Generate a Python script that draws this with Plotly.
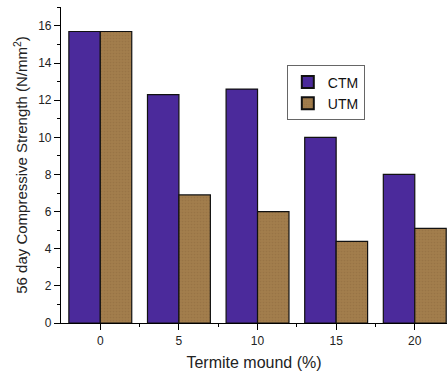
import plotly.graph_objects as go

categories = ["0", "5", "10", "15", "20"]
ctm = [15.7, 12.3, 12.6, 10.0, 8.0]
utm = [15.7, 6.9, 6.0, 4.4, 5.1]
y_ticks = [0, 2, 4, 6, 8, 10, 12, 14, 16]

xpos = list(range(len(categories)))

fig = go.Figure()
fig.add_trace(go.Bar(
    x=xpos, y=ctm, name="CTM",
    marker=dict(color="#4B2A9B", line=dict(color="#111111", width=1.2)),
))
fig.add_trace(go.Bar(
    x=xpos, y=utm, name="UTM",
    marker=dict(color="#A27D4C", line=dict(color="#111111", width=1.2),
                pattern=dict(shape=".", fgcolor="#8E6C40", bgcolor="#A27D4C",
                             size=3, solidity=0.25)),
))

font = "Liberation Sans, Arial, sans-serif"
fig.update_layout(
    width=447, height=374,
    margin=dict(l=61, r=0, t=7, b=51),
    paper_bgcolor="white", plot_bgcolor="white",
    barmode="group", bargap=0.2, bargroupgap=0,
    font=dict(family=font, size=12, color="#222222"),
    showlegend=True,
    legend=dict(x=0.585, y=0.815, xanchor="left", yanchor="top",
                bordercolor="#666666", borderwidth=1, bgcolor="white",
                font=dict(size=14, color="#111111"), tracegroupgap=0,
                itemsizing="constant"),
    xaxis=dict(
        range=[-0.5, 4.41], tickvals=xpos, ticktext=categories,
        showline=True, linecolor="black", linewidth=1.2,
        ticks="outside", ticklen=6, tickcolor="black", tickwidth=1,
        showgrid=False, zeroline=False,
        minor=dict(tickvals=[0.5, 1.5, 2.5, 3.5], ticks="outside", ticklen=3,
                   tickcolor="black", showgrid=False),
        title=dict(text="Termite mound (%)", font=dict(size=16), standoff=10),
        tickfont=dict(size=12),
    ),
    yaxis=dict(
        range=[0, 17.02], tickvals=y_ticks,
        showline=True, linecolor="black", linewidth=1.2,
        ticks="outside", ticklen=6, tickcolor="black", tickwidth=1,
        showgrid=False, zeroline=False,
        minor=dict(dtick=1, tick0=0, ticks="outside", ticklen=3,
                   tickcolor="black", showgrid=False),
        title=dict(text="56 day Compressive Strength (N/mm<sup>2</sup>)",
                   font=dict(size=15), standoff=6),
        tickfont=dict(size=12),
    ),
)

fig.write_html("out.html")
